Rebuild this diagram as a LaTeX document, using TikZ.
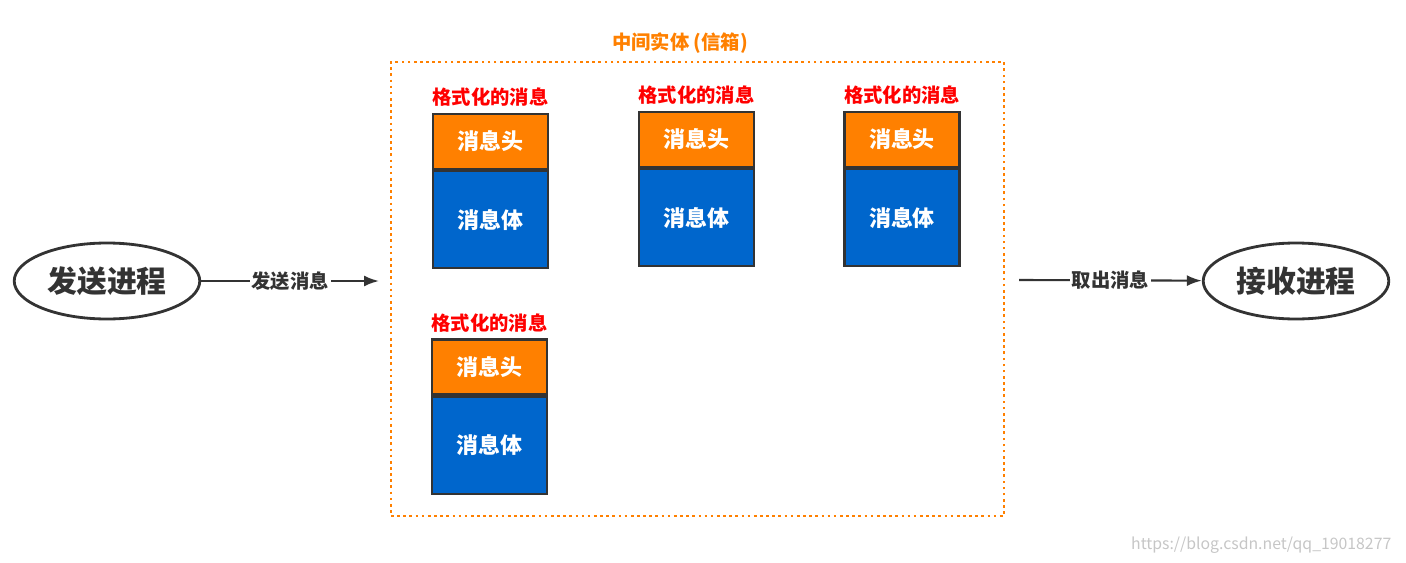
\documentclass[tikz,border=0pt]{standalone}
\usepackage{fontspec}
\setmainfont{Noto Sans CJK SC}
\usetikzlibrary{shapes,arrows.meta,positioning}
\definecolor{hdorange}{HTML}{FF8000}
\definecolor{bdblue}{HTML}{0066CC}
\definecolor{edgegray}{HTML}{333333}

\tikzset{
	proc/.style={ellipse, draw=edgegray, line width=1.6pt, minimum width=3.16cm, minimum height=1.52cm, font=\bfseries\fontsize{17}{20}\selectfont, text=edgegray},
	head/.style={rectangle, draw=edgegray, line width=1.2pt, fill=hdorange, minimum width=2.3cm, minimum height=1.1cm, text=white, font=\bfseries\fontsize{12.5}{14}\selectfont},
	body/.style={rectangle, draw=edgegray, line width=1.2pt, fill=bdblue, minimum width=2.3cm, minimum height=1.94cm, text=white, font=\bfseries\fontsize{12.5}{14}\selectfont},
	title/.style={text=red, font=\bfseries\fontsize{11}{13}\selectfont},
	flow/.style={-{Latex[length=3mm,width=2.2mm]}, line width=1.2pt, draw=edgegray},
	flowlabel/.style={fill=white, inner sep=1pt, text=edgegray, font=\bfseries\fontsize{11}{13}\selectfont}
}

\begin{document}
\begin{tikzpicture}
	\useasboundingbox (0,0) rectangle (28.12,-11.26);

	% processes
	\node[proc] (sender) at (2.14,-5.62) {发送进程};
	\node[proc] (receiver) at (25.92,-5.62) {接收进程};

	% mailbox
	\node[draw=hdorange, line width=1.5pt, dotted, minimum width=12.26cm, minimum height=9.08cm] (box) at (13.95,-5.78) {};
	\node[text=hdorange, font=\bfseries\fontsize{11}{13}\selectfont] (boxlabel) at (13.6,-0.86) {中间实体 (信箱)};

	% messages
	\node[head] (head1) at (9.81,-2.83) {消息头};
	\node[body, below=0pt of head1] (body1) {消息体};
	\node[title, above=0pt of head1] (title1) {格式化的消息};

	\node[head] (head2) at (13.93,-2.79) {消息头};
	\node[body, below=0pt of head2] (body2) {消息体};
	\node[title, above=0pt of head2] (title2) {格式化的消息};

	\node[head] (head3) at (18.04,-2.79) {消息头};
	\node[body, below=0pt of head3] (body3) {消息体};
	\node[title, above=0pt of head3] (title3) {格式化的消息};

	\node[head] (head4) at (9.79,-7.34) {消息头};
	\node[body, below=0pt of head4] (body4) {消息体};
	\node[title, above=0pt of head4] (title4) {格式化的消息};

	% connectors
	\coordinate (inpt) at (7.58,-5.62);
	\coordinate (outpt) at (20.38,-5.6);
	\draw[flow] (sender) -- node[flowlabel] {发送消息} (inpt);
	\draw[flow] (outpt) -- node[flowlabel] {取出消息} (receiver);

	\node[text=gray!45, font=\fontsize{9}{11}\selectfont, anchor=east] (mark) at (27.95,-10.9) {https://blog.csdn.net/qq\_19018277};
\end{tikzpicture}
\end{document}
